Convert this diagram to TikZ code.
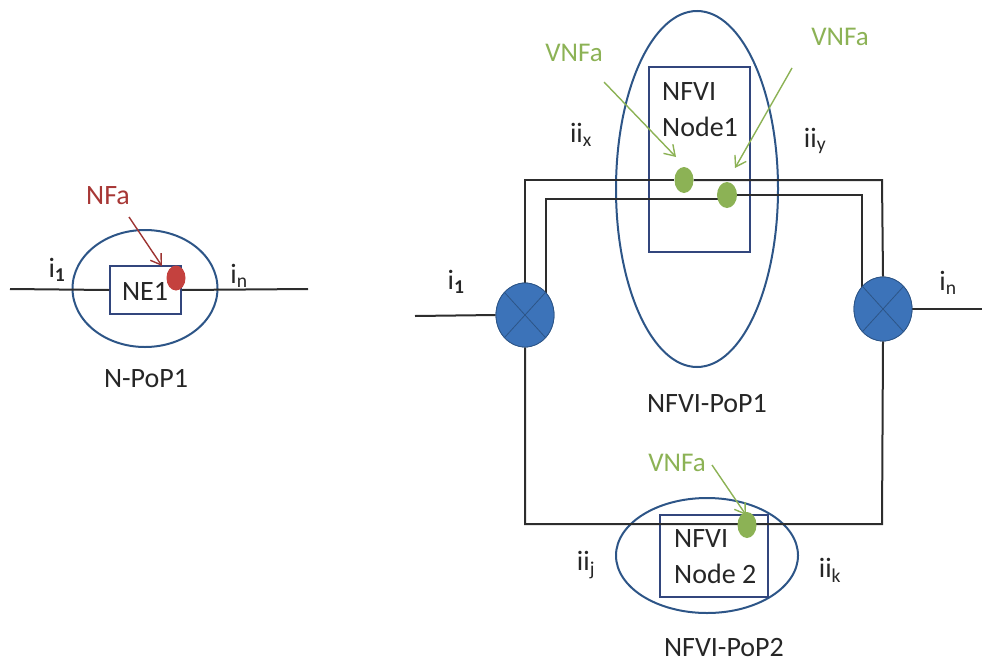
\documentclass[tikz,border=0pt]{standalone}
\usepackage{fontspec}
\setmainfont{Carlito}
\usetikzlibrary{shapes.geometric,arrows.meta,calc}
\definecolor{ringblue}{RGB}{45,85,135}
\definecolor{boxblue}{RGB}{50,70,125}
\definecolor{xfill}{RGB}{60,115,185}
\definecolor{vgreen}{RGB}{140,178,85}
\definecolor{nfred}{RGB}{196,65,62}
\definecolor{wire}{RGB}{45,45,45}
\tikzset{
  ring/.style={draw=ringblue,line width=2pt,ellipse,inner sep=0pt},
  nodebox/.style={draw=boxblue,line width=1.5pt,rectangle,inner sep=0pt},
  dotnf/.style={ellipse,inner sep=0pt,draw=none},
  xnode/.style={ellipse,inner sep=0pt,draw=ringblue,fill=xfill,line width=.8pt,minimum width=58pt,minimum height=64pt},
  wireline/.style={draw=wire,line width=2pt},
  thinwire/.style={draw=wire,line width=1.6pt},
  garrow/.style={draw=vgreen,line width=1.4pt,-{Straight Barb[length=10pt,width=13pt]}},
  rarrow/.style={draw=nfred!80!black,line width=1.4pt,-{Straight Barb[length=10pt,width=13pt]}},
  lbl/.style={font=\fontsize{28}{36}\selectfont,text=black!85,inner sep=0pt},
  glbl/.style={font=\fontsize{27}{32}\selectfont,text=vgreen,inner sep=0pt},
  rlbl/.style={font=\fontsize{28}{32}\selectfont,text=nfred!85!black,inner sep=0pt}
}
\begin{document}
\begin{tikzpicture}[x=1pt,y=-1pt]
\useasboundingbox (0,0) rectangle (982,664);
% left part
\coordinate (la) at (10,289);
\coordinate (lb) at (308,289);
\node[ring,minimum width=145pt,minimum height=117pt] (npop) at (145,288.5) {};
\node[nodebox,minimum width=71pt,minimum height=48pt,fill=white] (ne) at (145.5,290) {};
\draw[wireline] (la) -- (ne.west);
\draw[wireline] (ne.east) -- (lb);
\node[lbl] (net) at (145,291) {NE1};
\node[dotnf,fill=nfred,minimum width=19pt,minimum height=25pt] (nfd) at (176,278) {};
\node[rlbl] (nfl) at (108,196) {NFa};
\coordinate (nfs) at (129,217);
\coordinate (nfe) at (162,266);
\draw[rarrow] (nfs) -- (nfe);
\node[lbl] (li1) at (57,270) {i$_{\mathbf 1}$};
\node[lbl] (lin) at (239,276) {i$_{\mathrm n}$};
\node[lbl] (lpop) at (146,379) {N-PoP1};
% right part: rings and boxes
\node[ring,minimum width=162pt,minimum height=356pt] (pop1) at (697,189) {};
\node[nodebox,minimum width=101pt,minimum height=185pt] (n1) at (699.5,159.5) {};
\node[ring,minimum width=182pt,minimum height=115pt] (pop2) at (707,555.5) {};
\node[nodebox,minimum width=108pt,minimum height=82pt] (n2) at (714,556) {};
% crosses (anchors for the wires)
\node[xnode] (xl) at (525,315) {};
\node[xnode] (xr) at (883,309) {};
% green dots (anchors for the wires)
\node[dotnf,minimum width=19pt,minimum height=26pt] (g1) at (684,180) {};
\node[dotnf,minimum width=20pt,minimum height=26pt] (g2) at (727,195) {};
\node[dotnf,minimum width=19pt,minimum height=26pt] (g3) at (747,525) {};
\coordinate (tl) at (525,180);
\coordinate (tr) at (882,180);
\coordinate (il) at (546,199);
\coordinate (ir) at (862,195);
\coordinate (bl) at (525,524);
\coordinate (br) at (882,524);
\coordinate (ia) at (415,316);
\coordinate (ib) at (982,309);
\coordinate (ilx) at (546,300);
\coordinate (irx) at (862,295);
\draw[wireline] (xl.north) -- (tl) -- (g1);
\draw[wireline] (g1) -- (tr) -- (xr.north);
\draw[thinwire] (ilx) -- (il) -- (il -| g2);
\draw[thinwire] (g2) -- (ir) -- (irx);
\draw[wireline] (xl.south) -- (bl) -- (br) -- (xr.south);
\draw[wireline] (ia) -- (xl.west);
\draw[thinwire] (xr.east) -- (ib);
% redraw crosses over wires
\node[xnode] at (xl) {};
\node[xnode] at (xr) {};
\draw[draw=ringblue,line width=.8pt] (xl.north west) -- (xl.south east) (xl.north east) -- (xl.south west);
\draw[draw=ringblue,line width=.8pt] (xr.north west) -- (xr.south east) (xr.north east) -- (xr.south west);
\node[dotnf,fill=vgreen,minimum width=19pt,minimum height=26pt] at (g1) {};
\node[dotnf,fill=vgreen,minimum width=20pt,minimum height=26pt] at (g2) {};
\node[dotnf,fill=vgreen,minimum width=19pt,minimum height=26pt] at (g3) {};
% arrows
\coordinate (a1s) at (604,82);
\coordinate (a1e) at (676,157);
\coordinate (a2s) at (792,68);
\coordinate (a2e) at (735,168);
\coordinate (a3s) at (712,465);
\coordinate (a3e) at (746,515);
\draw[garrow] (a1s) -- (a1e);
\draw[garrow] (a2s) -- (a2e);
\draw[garrow] (a3s) -- (a3e);
% labels
\node[glbl] (v1) at (574,53) {VNFa};
\node[glbl] (v2) at (840,37) {VNFa};
\node[glbl] (v3) at (677,463) {VNFa};
\node[lbl,align=left,anchor=north west] (n1t) at (662,82) {NFVI\\Node1};
\node[lbl,align=left,anchor=north west] (n2t) at (674,529) {NFVI\\Node 2};
\node[lbl] (tix) at (581,135) {ii$_{\mathrm x}$};
\node[lbl] (tiy) at (815,141) {ii$_{\mathrm y}$};
\node[lbl] (tij) at (586,565) {ii$_{\mathrm j}$};
\node[lbl] (tik) at (830,570) {ii$_{\mathrm k}$};
\node[lbl] (ti1) at (456,282) {i$_{\mathbf 1}$};
\node[lbl] (tin) at (948,283) {i$_{\mathrm n}$};
\node[lbl] (tp1) at (707,404) {NFVI-PoP1};
\node[lbl] (tp2) at (724,648) {NFVI-PoP2};
\end{tikzpicture}
\end{document}
